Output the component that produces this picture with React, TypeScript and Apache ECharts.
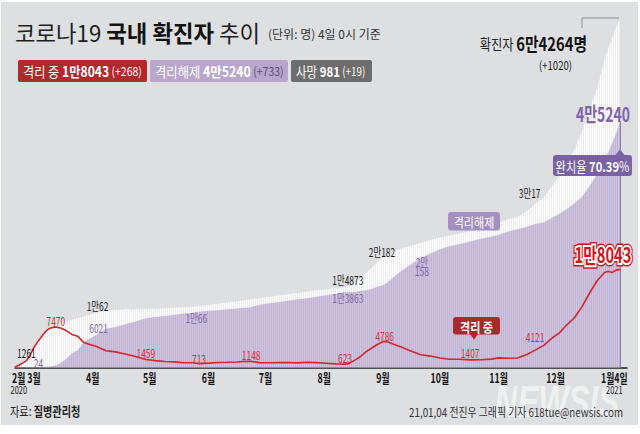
import React, { useEffect, useRef } from 'react';
import * as echarts from 'echarts';

// ---------- DATA (0시 기준) ----------
const dates = [
  '2020-02-20', '2020-02-22', '2020-02-24', '2020-02-26', '2020-02-28', '2020-03-01', '2020-03-03', '2020-03-05',
  '2020-03-07', '2020-03-09', '2020-03-12', '2020-03-15', '2020-03-18', '2020-03-21', '2020-03-24', '2020-03-27',
  '2020-03-30', '2020-04-03', '2020-04-08', '2020-04-13', '2020-04-18', '2020-04-23', '2020-04-29', '2020-05-04',
  '2020-05-09', '2020-05-14', '2020-05-19', '2020-05-24', '2020-05-27', '2020-06-01', '2020-06-06', '2020-06-11',
  '2020-06-16', '2020-06-19', '2020-06-23', '2020-06-28', '2020-07-03', '2020-07-08', '2020-07-13', '2020-07-18',
  '2020-07-23', '2020-07-28', '2020-08-02', '2020-08-07', '2020-08-12', '2020-08-14', '2020-08-17', '2020-08-20',
  '2020-08-23', '2020-08-26', '2020-08-29', '2020-09-01', '2020-09-03', '2020-09-07', '2020-09-11', '2020-09-15',
  '2020-09-21', '2020-09-26', '2020-10-01', '2020-10-06', '2020-10-11', '2020-10-17', '2020-10-23', '2020-10-28',
  '2020-11-01', '2020-11-06', '2020-11-11', '2020-11-16', '2020-11-20', '2020-11-25', '2020-11-29', '2020-12-03',
  '2020-12-07', '2020-12-11', '2020-12-15', '2020-12-19', '2020-12-23', '2020-12-27', '2020-12-29', '2020-12-31',
  '2021-01-02', '2021-01-04',
];
const confirmed = [
  104, 433, 833, 1261, 2337, 3736, 4812, 5766, 6767, 7382, 7869, 8162, 8413, 8799, 9037, 9332,
  9661, 10062, 10384, 10537, 10653, 10702, 10765, 10804, 10840, 10991, 11078, 11190, 11265, 11503, 11719, 11947,
  12155, 12306, 12484, 12715, 12967, 13244, 13479, 13711, 13979, 14203, 14366, 14519, 14714, 14873, 15515, 16346,
  17399, 18265, 19400, 20182, 20644, 21296, 21919, 22285, 22893, 23455, 23889, 24239, 24606, 25035, 25543, 26043,
  26635, 27195, 27653, 28769, 30017, 31353, 33375, 35163, 37546, 40098, 43484, 47515, 51460, 56872, 58725, 60740,
  62593, 64264,
];
const recovered = [
  16, 16, 18, 24, 27, 30, 34, 88, 135, 166, 333, 834, 1540, 2612, 3166, 4528,
  5228, 6021, 7117, 7447, 7937, 8411, 9059, 9283, 9484, 9695, 9938, 10066, 10295, 10422, 10531, 10718,
  10856, 10930, 11060, 11537, 11811, 12065, 12282, 12572, 12727, 13007, 13280, 13543, 13817, 13863, 13901, 14063,
  14219, 14423, 14856, 15108, 15529, 16729, 17828, 18812, 20158, 20961, 21732, 22283, 22655, 23186, 23717, 24046,
  24395, 25016, 25412, 25885, 26365, 26729, 27504, 28291, 29141, 30182, 31380, 33367, 35580, 38373, 39707, 41435,
  43099, 45240,
];
const isolated = [
  87, 415, 808, 1225, 2297, 3688, 4750, 5643, 6588, 7165, 7470, 7253, 6789, 6085, 5762, 4665,
  4275, 3867, 3075, 2873, 2484, 2051, 1459, 1267, 1100, 1036, 877, 860, 713, 810, 920, 953,
  1022, 1096, 1148, 898, 873, 894, 907, 845, 955, 898, 785, 672, 623, 705, 1309, 1977,
  2871, 3532, 4224, 4750, 4786, 4241, 3741, 3110, 2358, 2098, 1742, 1529, 1522, 1407, 1420, 1536,
  1776, 1698, 1753, 2390, 3153, 4121, 5345, 6346, 7850, 9150, 11200, 13700, 16000, 17500, 17650, 17480,
  17900, 18043,
];
const dailyChange = { confirmed: 1020, isolated: 268, recovered: 733, deaths: 19 };

const monthTickDates = [
  '2020-02-22', '2020-03-01', '2020-04-01', '2020-05-01', '2020-06-01', '2020-07-01', '2020-08-01',
  '2020-09-01', '2020-10-01', '2020-11-01', '2020-12-01', '2021-01-01',
];
const monthLabels = ['2월', '3월', '4월', '5월', '6월', '7월', '8월', '9월', '10월', '11월', '12월', '1월4일'];
const yearLabels = ['2020', '', '', '', '', '', '', '', '', '', '', '2021'];

// which points get value labels (index into the arrays)
const confirmedLabelIdx = [3, 17, 45, 51, 68];
const recoveredLabelIdx = [3, 17, 27, 45, 56];
const isolatedLabelIdx = [10, 22, 28, 34, 44, 52, 61, 69];

// ---------- STYLE ----------
const KR = '"Noto Sans CJK KR", "Noto Sans", sans-serif';
const labelOffsets: Record<string, [number, number][]> = {
  c: [[0, -8], [1, -7], [-1, -7], [-1, -6], [-5, -11]],
  r: [[12, -5], [2, -7], [3, 5], [-1, 6], [1, 8]],
  i: [[1, -6], [0, -7], [0, -5], [1, -6], [0, -6], [-2, -6], [0, -7], [-9, -8]],
};

const dayIndex = (s: string) => {
  const [y, m, d] = s.split('-').map(Number);
  return (Date.UTC(y, m - 1, d) - Date.UTC(2020, 1, 1)) / 86400000;
};
const fmtKo = (v: number, split = false) =>
  v >= 10000 ? `${Math.floor(v / 10000)}만${split ? '\n' : ''}${v % 10000}` : `${v}`;

const stripe = (a: string, b: string) => {
  const c = document.createElement('canvas');
  c.width = 2;
  c.height = 4;
  const ctx = c.getContext('2d');
  if (ctx) {
    ctx.fillStyle = a;
    ctx.fillRect(0, 0, 1, 4);
    ctx.fillStyle = b;
    ctx.fillRect(1, 0, 1, 4);
  }
  return c;
};

export default function App() {
  const ref = useRef<HTMLDivElement>(null);

  useEffect(() => {
    if (!ref.current) return;
    const chart = echarts.init(ref.current, null, { renderer: 'svg' });
    const days = dates.map(dayIndex);
    const last = dates.length - 1;
    const dLast = days[last];
    const cLast = confirmed[last];
    const rLast = recovered[last];
    const iLast = isolated[last];
    const deaths = cLast - rLast - iLast;

    chart.setOption({
      animation: false,
      backgroundColor: 'transparent',
      grid: { left: 15, right: 13, top: 18, bottom: 66.5 },
      xAxis: {
        type: 'value',
        min: days[0],
        max: dLast + 3.7,
        axisLine: { show: true, lineStyle: { color: '#222', width: 1.5 } },
        axisTick: { show: false },
        axisLabel: { show: false },
        splitLine: { show: false },
      },
      yAxis: { type: 'value', min: 0, max: cLast, show: false, splitLine: { show: false } },
      series: [
        {
          type: 'line',
          name: '확진자',
          data: days.map((d, i) => [d, confirmed[i]]),
          symbol: 'none',
          lineStyle: { width: 0 },
          areaStyle: { color: { image: stripe('#ffffff', '#ececee'), repeat: 'repeat' }, opacity: 1 },
          z: 2,
          silent: true,
        },
        {
          type: 'line',
          name: '격리해제',
          data: days.map((d, i) => [d, recovered[i]]),
          symbol: 'none',
          lineStyle: { width: 0 },
          areaStyle: { color: { image: stripe('#d0c5df', '#c1b3d4'), repeat: 'repeat' }, opacity: 1 },
          z: 3,
          silent: true,
          markLine: {
            silent: true,
            symbol: 'none',
            label: { show: false },
            lineStyle: { color: '#8e79b3', width: 1, type: 'solid' },
            data: [[{ coord: [dLast, 0] }, { coord: [dLast, rLast] }]],
          },
        },
        {
          type: 'line',
          name: '격리 중',
          data: days.map((d, i) => [d, isolated[i]]),
          symbol: 'none',
          lineStyle: { color: '#d3252c', width: 1.6 },
          z: 4,
          silent: true,
        },
      ],
    });

    const pt = (d: number, v: number) => chart.convertToPixel({ gridIndex: 0 }, [d, v]) as number[];
    const T = (
      x: number, y: number, text: string, o: {
        size?: number; weight?: string; fill?: string; sx?: number; align?: string; va?: string;
        rich?: any; stroke?: string; lw?: number; z?: number; style?: any; lineHeight?: number;
      } = {}
    ) => ({
      type: 'text', x, y, scaleX: o.sx ?? 1, z: o.z ?? 100, silent: true,
      style: {
        text,
        fill: o.fill ?? '#222',
        fontSize: o.size ?? 12,
        fontWeight: o.weight ?? 'normal',
        fontFamily: KR,
        align: o.align ?? 'center', textAlign: o.align ?? 'center',
        verticalAlign: o.va ?? 'middle', textVerticalAlign: o.va ?? 'middle',
        lineHeight: o.lineHeight,
        rich: o.rich,
        stroke: o.stroke, lineWidth: o.lw,
        ...(o.style || {}),
      },
    });
    const richPart = (size: number, weight: string, fill: string) => ({ fontSize: size, fontWeight: weight, fill, color: fill, fontFamily: KR });

    const g: any[] = [];
    // panel background
    g.push({ type: 'rect', z: -10, silent: true, shape: { x: 1, y: 2, width: 637, height: 423 }, style: { fill: '#dedfe1' } });

    // title
    g.push(T(15, 32.5, '{a|코로나19 }{b|국내 확진자}{a| 추이}', {
      align: 'left', sx: 0.97,
      rich: { a: richPart(23, 'normal', '#1e1e1e'), b: richPart(23, 'bold', '#111') },
    }));
    g.push(T(268, 33.5, '(단위: 명) 4일 0시 기준', { align: 'left', size: 12, sx: 1.0, fill: '#333' }));

    // legend boxes
    const boxes = [
      { x: 18, w: 129, fill: '#b3282d', a: '격리 중 ', b: fmtKo(iLast), c: ` (+${dailyChange.isolated})`, cFill: '#fff', sx: 0.87 },
      { x: 150, w: 138, fill: '#b8a6cc', a: '격리해제 ', b: fmtKo(rLast), c: ` (+${dailyChange.recovered})`, cFill: '#5c4b78', sx: 0.88 },
      { x: 291, w: 81, fill: '#6d6d6d', a: '사망 ', b: `${deaths}`, c: ` (+${dailyChange.deaths})`, cFill: '#fff', sx: 0.82 },
    ];
    boxes.forEach((b) => {
      g.push({ type: 'rect', z: 90, silent: true, shape: { x: b.x, y: 60, width: b.w, height: 22, r: 2 }, style: { fill: b.fill } });
      g.push(T(b.x + 5, 71, `{a|${b.a}}{b|${b.b}}{c|${b.c}}`, {
        align: 'left', sx: b.sx,
        rich: { a: richPart(14, 'normal', '#fff'), b: richPart(14, 'bold', '#fff'), c: richPart(12, 'normal', b.cFill) },
      }));
    });

    // total confirmed annotation (top right)
    const [xL, yC] = pt(dLast, cLast);
    g.push({
      type: 'polyline', z: 90, silent: true,
      shape: { points: [[xL - 38, yC + 10], [xL - 38, yC], [xL - 1, yC]] },
      style: { stroke: '#8c8c8c', lineWidth: 1, fill: 'none' },
    });
    g.push(T(xL - 33, 43.5, `{a|확진자 }{b|${fmtKo(cLast)}명}`, {
      align: 'right', sx: 0.82,
      rich: { a: richPart(15, 'normal', '#222'), b: richPart(18, 'bold', '#111') },
    }));
    g.push(T(xL - 64.5, 64, `(+${dailyChange.confirmed})`, { size: 12, sx: 0.8, fill: '#222' }));

    // month labels
    monthTickDates.forEach((s, k) => {
      const [x] = pt(dayIndex(s), 0);
      g.push(T(x, 377, monthLabels[k], { size: 13, weight: 'bold', sx: 0.68, fill: '#111' }));
      if (yearLabels[k]) g.push(T(x, 390, yearLabels[k], { size: 10, sx: 0.75, fill: '#222' }));
    });

    // value labels
    confirmedLabelIdx.forEach((i, k) => {
      const [x, y] = pt(days[i], confirmed[i]);
      const [dx, dy] = labelOffsets.c[k];
      g.push(T(x + dx, y + dy, fmtKo(confirmed[i]), { size: 12, sx: 0.7, fill: '#1a1a1a' }));
    });
    recoveredLabelIdx.forEach((i, k) => {
      const [x, y] = pt(days[i], recovered[i]);
      const [dx, dy] = labelOffsets.r[k];
      const split = k === recoveredLabelIdx.length - 1;
      g.push(T(x + dx, y + dy, fmtKo(recovered[i], split), { size: 12, sx: 0.7, fill: '#7d66a8', lineHeight: 9 }));
    });
    isolatedLabelIdx.forEach((i, k) => {
      const [x, y] = pt(days[i], isolated[i]);
      const [dx, dy] = labelOffsets.i[k];
      g.push(T(x + dx, y + dy, fmtKo(isolated[i]), { size: 12, sx: 0.7, fill: '#d0313a' }));
    });

    // big end labels
    const [, yI] = pt(dLast, iLast);
    const [, yR] = pt(dLast, rLast);
    const bigI = fmtKo(iLast);
    g.push(T(xL - 17, yI - 16, bigI, { size: 21, weight: 'bold', sx: 0.7, fill: '#c8161e', stroke: '#c8161e', lw: 7, z: 101 }));
    g.push(T(xL - 17, yI - 16, bigI, { size: 21, weight: 'bold', sx: 0.7, fill: '#fff', stroke: '#fff', lw: 4, z: 102 }));
    g.push(T(xL - 17, yI - 16, bigI, { size: 21, weight: 'bold', sx: 0.7, fill: '#d1161d', z: 103 }));
    g.push(T(xL - 17, yR - 8, fmtKo(rLast), { size: 20, weight: 'bold', sx: 0.7, fill: '#7e64a8' }));

    // recovery rate callout
    const rate = (Math.floor((rLast / cLast) * 10000) / 100).toFixed(2);
    g.push({ type: 'polygon', z: 95, silent: true, shape: { points: [[xL - 5, yR + 34], [xL + 5, yR + 34], [xL, yR + 28]] }, style: { fill: '#7a62a2' } });
    g.push({ type: 'rect', z: 95, silent: true, shape: { x: xL - 67, y: yR + 33.5, width: 79, height: 21, r: 3 }, style: { fill: '#7a62a2' } });
    g.push(T(xL - 27.5, yR + 44, `{a|완치율 }{b|${rate}}{a|%}`, {
      sx: 0.8, rich: { a: richPart(14, 'normal', '#fff'), b: richPart(14, 'bold', '#fff') },
    }));

    // series tags
    g.push({ type: 'rect', z: 95, silent: true, shape: { x: 448, y: 212, width: 52, height: 18.5, r: 3 }, style: { fill: '#a48fc0' } });
    g.push(T(474, 221.5, '격리해제', { size: 13, sx: 0.85, fill: '#fff' }));
    g.push({ type: 'rect', z: 95, silent: true, shape: { x: 453, y: 317, width: 47, height: 17.5, r: 3 }, style: { fill: '#a8282c' } });
    g.push({ type: 'polygon', z: 95, silent: true, shape: { points: [[470, 334], [478, 334], [474, 339.5]] }, style: { fill: '#a8282c' } });
    g.push(T(476.5, 325.8, '격리 중', { size: 13, weight: 'bold', sx: 0.85, fill: '#fff' }));

    // footer
    g.push(T(557, 402, 'NEWSIS', {
      size: 44, weight: 'bold', sx: 0.72, fill: 'rgba(255,255,255,0.55)', z: 60,
      style: { fontStyle: 'italic', fontFamily: '"Liberation Sans", Arial, sans-serif' },
    }));
    g.push(T(10, 410, '{a|자료: }{b|질병관리청}', {
      align: 'left', sx: 0.78, rich: { a: richPart(13, 'normal', '#222'), b: richPart(13, 'bold', '#222') },
    }));
    g.push(T(623, 412, '21,01,04 전진우 그래픽 기자 618tue@newsis.com', { align: 'right', size: 12, sx: 0.82, fill: '#333' }));

    chart.setOption({ graphic: { elements: g } });
    return () => chart.dispose();
  }, []);

  return (
    <div style={{ position: 'absolute', left: 0, top: 0, width: 640, height: 434, background: '#fff' }}>
      <div ref={ref} style={{ width: 640, height: 434 }} />
    </div>
  );
}
